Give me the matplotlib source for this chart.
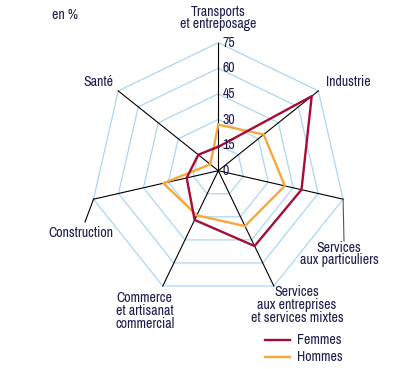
import matplotlib
matplotlib.use("Agg")
import matplotlib.pyplot as plt
import numpy as np

# data (in %)
categories = ["Transports\net entreposage", "Industrie", "Services\naux particuliers",
              "Services\naux entreprises\net services mixtes",
              "Commerce\net artisanat\ncommercial", "Construction", "Santé"]
femmes = [14, 70, 50, 49, 32, 19, 15]
hommes = [27, 34, 40, 36, 29, 33, 6]
ticks = [0, 15, 30, 45, 60, 75]

red = "#a50d36"
orange = "#f8a83a"
blue = "#acd6f2"
txt = "#1d1d4d"

plt.rcParams['font.family'] = ['Archivo Narrow', 'Liberation Sans Narrow', 'DejaVu Sans']
plt.rcParams['font.size'] = 10

W, H = 397, 369
cx, cy, scale = 218.3, 170.7, 128 / 75  # pixel center, pixels per unit

fig = plt.figure(figsize=(W / 100, H / 100), dpi=100)
ax = fig.add_axes([0, 0, 1, 1])
ax.set_xlim(-cx / scale, (W - cx) / scale)
ax.set_ylim(-(H - cy) / scale, cy / scale)
ax.axis("off")


def px(x, y):
    # pixel position -> data coordinates
    return (x - cx) / scale, (cy - y) / scale


n = len(categories)
angles = np.pi / 2 - np.arange(n) * 2 * np.pi / n


def xy(vals):
    vals = np.asarray(vals, dtype=float)
    x = vals * np.cos(angles)
    y = vals * np.sin(angles)
    return np.append(x, x[0]), np.append(y, y[0])


# grid rings
for t in ticks[1:]:
    gx, gy = xy([t] * n)
    ax.plot(gx, gy, color=blue, lw=0.9, zorder=1)

# spokes
rmax = ticks[-1]
for a in angles:
    ax.plot([0, rmax * np.cos(a)], [0, rmax * np.sin(a)], color="black", lw=0.8, zorder=2)

# leader lines
ex, ey = rmax * np.cos(angles[2]), rmax * np.sin(angles[2])
ax.plot([ex, px(344, 241)[0]], [ey, px(344, 241)[1]], color="#555555", lw=0.8)
ex, ey = rmax * np.cos(angles[5]), rmax * np.sin(angles[5])
ax.plot([ex, px(85, 222)[0]], [ey, px(85, 222)[1]], color="black", lw=0.8)

# series
fx, fy = xy(femmes)
hx, hy = xy(hommes)
ax.plot(hx, hy, color=orange, lw=1.7, zorder=3)
ax.plot(fx, fy, color=red, lw=1.7, zorder=4)

# radial tick labels
for t in ticks:
    ax.text(2.5, t, str(t), ha="left", va="center", color=txt, zorder=5)

# category labels
lab = [
    (218, 18, "center", "center"),
    (326, 82, "left", "center"),
    (339, 254, "center", "center"),
    (297, 305, "center", "center"),
    (115, 311, "left", "center"),
    (48, 233, "left", "center"),
    (83, 82, "left", "center"),
]
for (x, y, ha, ma), name in zip(lab, categories):
    ax.text(*px(x, y), name, ha=ha, va="center", multialignment=ma,
            color=txt, linespacing=0.88)

ax.text(*px(52, 15), "en %", ha="left", va="center", color=txt)

# legend
for yy, c, name in [(340, red, "Femmes"), (357, orange, "Hommes")]:
    x0, y0 = px(265, yy)
    x1, _ = px(290, yy)
    ax.plot([x0, x1], [y0, y0], color=c, lw=1.7)
    ax.text(*px(297, yy), name, ha="left", va="center", color=txt)

fig.savefig("out.png", dpi=100)
